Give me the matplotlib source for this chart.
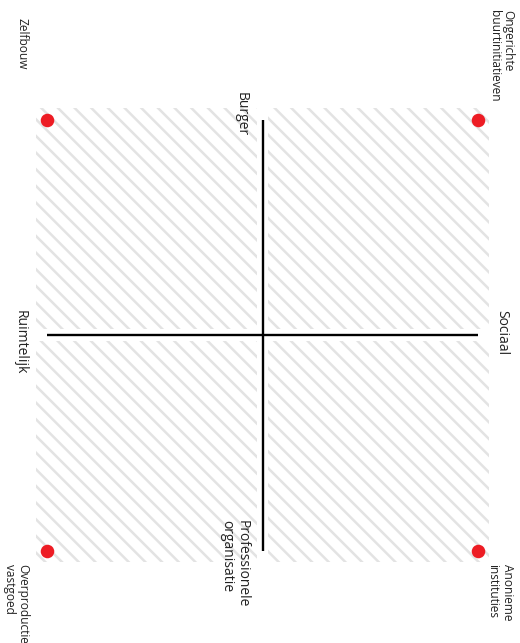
import matplotlib.pyplot as plt
from matplotlib.patches import Rectangle

plt.rcParams['font.family'] = ['Open Sans', 'DejaVu Sans']
plt.rcParams['hatch.linewidth'] = 1.8

# Assen van het kwadrant
as_labels = ["Burger", "Professionele\norganisatie", "Ruimtelijk", "Sociaal"]
as_uiteinden_x = [0, 0, -1, 1]
as_uiteinden_y = [1, -1, 0, 0]

# Hoekpunten
hoek_labels = ["Zelfbouw", "Ongerichte\nbuurtinitiatieven",
               "Overproductie\nvastgoed", "Anonieme\ninstituties"]
hoek_x = [-1, 1, -1, 1]
hoek_y = [1, 1, -1, -1]

schaal = 215.5  # pixels per eenheid
fig = plt.figure(figsize=(5.2, 6.43), dpi=100)
ax = fig.add_axes([0, 0, 1, 1])
ax.set_xlim(-262.5 / schaal, (520 - 262.5) / schaal)
ax.set_ylim((335 - 643) / schaal, 335 / schaal)
ax.axis('off')

# Gearceerde kwadranten
ext = 1.053
gap = 0.027
for sx in (-1, 1):
    for sy in (-1, 1):
        x0 = gap if sx > 0 else -ext
        y0 = gap if sy > 0 else -ext
        ax.add_patch(Rectangle((x0, y0), ext - gap, ext - gap, facecolor='white',
                               edgecolor='#e3e3e3', hatch='\\\\', linewidth=0, zorder=1))

# Assen
ax.plot([as_uiteinden_x[2], as_uiteinden_x[3]], [as_uiteinden_y[2], as_uiteinden_y[3]],
        color='black', lw=1.7, zorder=2, solid_capstyle='butt')
ax.plot([as_uiteinden_x[0], as_uiteinden_x[1]], [as_uiteinden_y[0], as_uiteinden_y[1]],
        color='black', lw=1.7, zorder=2, solid_capstyle='butt')

# Punten
ax.scatter(hoek_x, hoek_y, s=95, color='#ed1c24', zorder=3, linewidths=0)

tekst = dict(rotation=-90, color='#222222', multialignment='left',
             textcoords='offset pixels', annotation_clip=False, linespacing=1.1)

# offsets (pixels) en uitlijning per label
as_offsets = [(-21, 27, 'top'), (-28, 31, 'top'), (-27, -7, 'center'), (24, 2, 'center')]
for lab, x, y, (dx, dy, va) in zip(as_labels, as_uiteinden_x, as_uiteinden_y, as_offsets):
    ax.annotate(lab, (x, y), xytext=(dx, dy), ha='center', va=va, fontsize=10, **tekst)

hoek_offsets = [(-25, 102), (23, 109), (-31, -13), (22, -13)]
for lab, x, y, (dx, dy) in zip(hoek_labels, hoek_x, hoek_y, hoek_offsets):
    ax.annotate(lab, (x, y), xytext=(dx, dy), ha='center', va='top', fontsize=8.6, **tekst)

fig.savefig('out.png', dpi=100)
